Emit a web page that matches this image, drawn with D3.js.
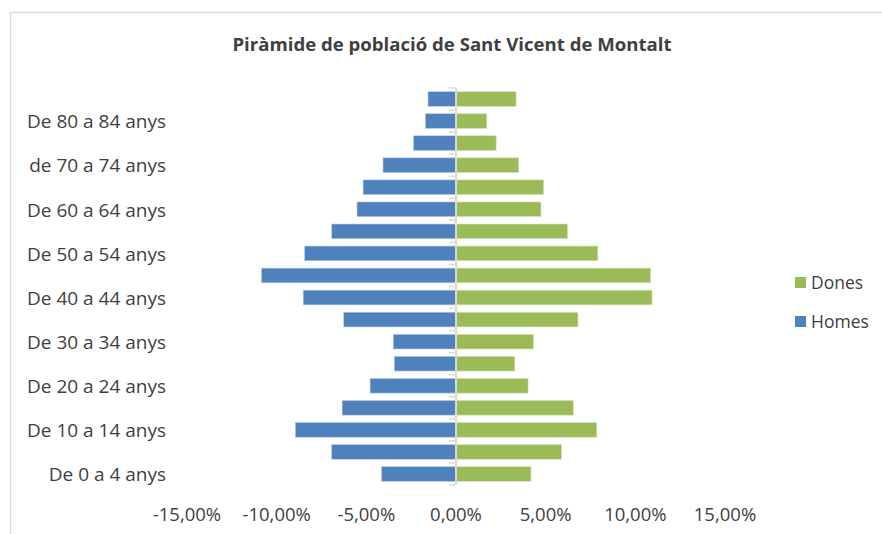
<!DOCTYPE html>
<html>
<head>
<meta charset="utf-8">
<script src="https://cdn.jsdelivr.net/npm/d3@7"></script>
<style>
  body { margin: 0; background: #fff; }
  text { font-family: "Open Sans", sans-serif; fill: #404040; }
</style>
</head>
<body>
<div id="chart"></div>
<script>
(function() {

    // age groups, bottom to top
    var ageGroups = ["De 0 a 4 anys", "De 5 a 9 anys", "De 10 a 14 anys", "De 15 a 19 anys",
        "De 20 a 24 anys", "De 25 a 29 anys", "De 30 a 34 anys", "De 35 a 39 anys",
        "De 40 a 44 anys", "De 45 a 49 anys", "De 50 a 54 anys", "De 55 a 59 anys",
        "De 60 a 64 anys", "De 65 a 69 anys", "de 70 a 74 anys", "De 75 a 79 anys",
        "De 80 a 84 anys", "De 85 anys i més"]
    // percentages (homes drawn to the left)
    var homes = [4.15, 6.93, 8.96, 6.35, 4.79, 3.44, 3.50, 6.26, 8.52, 10.85,
        8.44, 6.93, 5.52, 5.18, 4.07, 2.37, 1.71, 1.56]
    var dones = [4.18, 5.89, 7.85, 6.54, 4.02, 3.28, 4.32, 6.80, 10.93, 10.85,
        7.91, 6.22, 4.74, 4.89, 3.50, 2.24, 1.72, 3.35]
    var xTicks = [-15, -10, -5, 0, 5, 10, 15]
    var title = "Piràmide de població de Sant Vicent de Montalt"
    var legendItems = [{name: "Dones", color: "#9BBB59"}, {name: "Homes", color: "#4F81BD"}]

    var width = 882, height = 534

    var svg = d3.select("#chart").append("svg")
        .attr("width", width)
        .attr("height", height)

    svg.append("rect")
        .attr("x", 10.5).attr("y", 12.5)
        .attr("width", 1000).attr("height", 1000)
        .attr("fill", "#fff")
        .attr("stroke", "#d9d9d9")
        .attr("stroke-width", 1.5)

    svg.append("text")
        .attr("x", 452).attr("y", 51)
        .attr("text-anchor", "middle")
        .style("font-size", "18.6px")
        .style("font-weight", "bold")
        .text(title)

    var x = d3.scaleLinear().domain([-15, 15]).range([187, 725])
    var y = d3.scaleBand().domain(ageGroups).range([485, 88])
        .paddingInner(1 / 3).paddingOuter(1 / 6)

    var rows = ageGroups.map(function(g, i) {
        return {group: g, homes: homes[i], dones: dones[i], i: i}
    })

    // homes
    svg.append("g").selectAll("rect")
        .data(rows)
        .enter().append("rect")
        .attr("x", d => x(-d.homes))
        .attr("y", d => y(d.group))
        .attr("width", d => x(0) - x(-d.homes))
        .attr("height", y.bandwidth())
        .attr("fill", "#4F81BD")
        .attr("stroke", "#b9cde5")
        .attr("stroke-width", 0.6)

    // dones
    svg.append("g").selectAll("rect")
        .data(rows)
        .enter().append("rect")
        .attr("x", x(0))
        .attr("y", d => y(d.group))
        .attr("width", d => x(d.dones) - x(0))
        .attr("height", y.bandwidth())
        .attr("fill", "#9BBB59")
        .attr("stroke", "#d7e4bd")
        .attr("stroke-width", 0.6)

    // vertical category axis at zero
    var axis = svg.append("g").attr("stroke", "#d9d9d9")
    axis.append("line")
        .attr("x1", x(0)).attr("x2", x(0))
        .attr("y1", 88).attr("y2", 485)
        .attr("stroke-width", 2)
    var bounds = ageGroups.map(g => y(g) + y.bandwidth() + y.step() * y.paddingInner() / 2)
    bounds.push(88)
    axis.selectAll(".tick")
        .data(bounds)
        .enter().append("line")
        .attr("x1", x(0) - 7).attr("x2", x(0))
        .attr("y1", d => d).attr("y2", d => d)
        .attr("stroke-width", 1.5)

    // category labels, every second one
    svg.append("g").selectAll("text")
        .data(rows.filter(d => d.i % 2 == 0))
        .enter().append("text")
        .attr("x", 166)
        .attr("y", d => y(d.group) + y.bandwidth() / 2)
        .attr("dy", "0.38em")
        .attr("text-anchor", "end")
        .style("font-size", "19px")
        .text(d => d.group)

    // value labels
    var fmt = d3.format(".2f")
    svg.append("g").selectAll("text")
        .data(xTicks)
        .enter().append("text")
        .attr("x", d => x(d))
        .attr("y", 521)
        .attr("text-anchor", "middle")
        .style("font-size", "18.5px")
        .text(d => fmt(d).replace("\u2212", "-").replace(".", ",") + "%")

    // legend
    var leg = svg.append("g").selectAll("g")
        .data(legendItems)
        .enter().append("g")
        .attr("transform", (d, i) => "translate(795," + (277 + i * 39) + ")")
    leg.append("rect")
        .attr("width", 11).attr("height", 11)
        .attr("fill", d => d.color)
    leg.append("text")
        .attr("x", 16).attr("y", 5.5)
        .attr("dy", "0.36em")
        .style("font-size", "17.5px")
        .text(d => d.name)

})()
</script>
</body>
</html>
